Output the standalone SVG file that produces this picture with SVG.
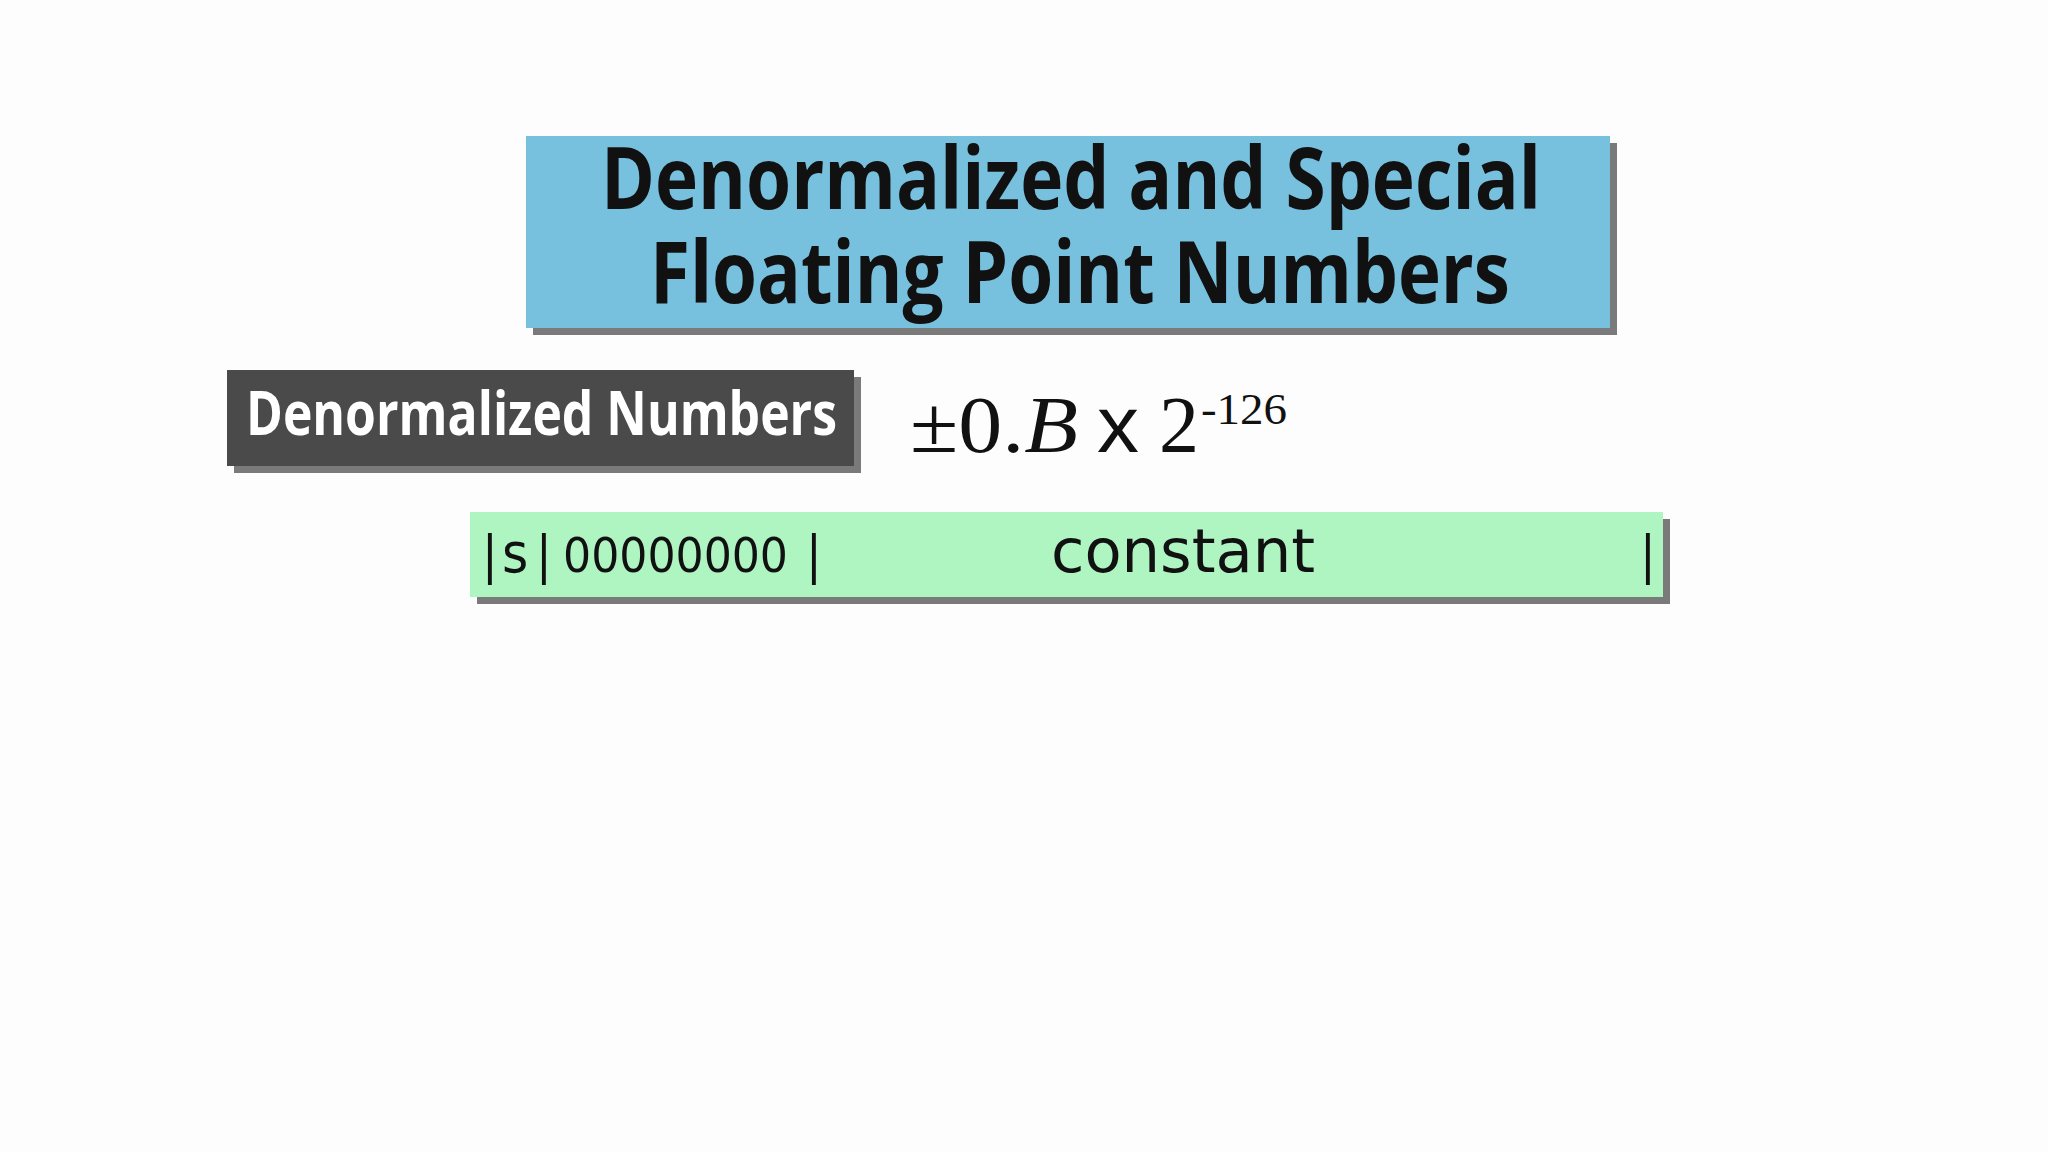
<svg xmlns="http://www.w3.org/2000/svg" width="2048" height="1152" viewBox="0 0 2048 1152">
  <style>
    .shadow { fill: #7a7a7a; }
    .title { font-family: "Open Sans", "DejaVu Sans", sans-serif; font-weight: 700; font-size: 86px; fill: #111; text-anchor: middle; }
    .label { font-family: "Open Sans", "DejaVu Sans", sans-serif; font-weight: 700; font-size: 60px; fill: #fff; }
    .math { font-family: "Liberation Serif", "Times New Roman", serif; fill: #111; }
    .bits { font-family: "DejaVu Sans Condensed", "DejaVu Sans", sans-serif; fill: #111; }
  </style>
  <rect width="2048" height="1152" fill="#fdfdfd"/>
  <g id="title">
    <rect class="shadow" x="533" y="143" width="1084" height="192"/>
    <rect x="526" y="136" width="1084" height="192" fill="#77c1de"/>
    <text class="title" x="1071" y="209" textLength="940" lengthAdjust="spacingAndGlyphs">Denormalized and Special</text>
    <text class="title" x="1080" y="303" textLength="860" lengthAdjust="spacingAndGlyphs">Floating Point Numbers</text>
  </g>
  <g id="denormalized-label">
    <rect class="shadow" x="234" y="377" width="627" height="96"/>
    <rect x="227" y="370" width="627" height="96" fill="#4b4a4b"/>
    <text class="label" x="246" y="435" textLength="591" lengthAdjust="spacingAndGlyphs">Denormalized Numbers</text>
  </g>
  <g id="formula">
    <text class="math" x="910" y="452" font-size="80" textLength="168" lengthAdjust="spacingAndGlyphs">±0.<tspan font-style="italic">B</tspan></text>
    <text x="1097" y="452" font-family="Liberation Sans, Arial, sans-serif" font-size="80" fill="#111" textLength="42" lengthAdjust="spacingAndGlyphs">x</text>
    <text class="math" x="1159" y="452" font-size="80">2</text>
    <text class="math" x="1201" y="424" font-size="44" textLength="86" lengthAdjust="spacingAndGlyphs">-126</text>
  </g>
  <g id="bit-layout">
    <rect class="shadow" x="477" y="519" width="1193" height="85"/>
    <rect x="470" y="512" width="1193" height="85" fill="#aef5c2"/>
    <text class="bits" x="482" y="572" font-size="52">|</text>
    <text class="bits" x="502" y="572" font-size="56">s</text>
    <text class="bits" x="536" y="572" font-size="52">|</text>
    <text class="bits" x="563" y="572" font-size="48" textLength="225" lengthAdjust="spacingAndGlyphs">00000000</text>
    <text class="bits" x="806" y="572" font-size="52">|</text>
    <text class="bits" x="1183" y="572" font-size="60" text-anchor="middle" textLength="264" lengthAdjust="spacingAndGlyphs">constant</text>
    <text class="bits" x="1640" y="572" font-size="52">|</text>
  </g>
</svg>
